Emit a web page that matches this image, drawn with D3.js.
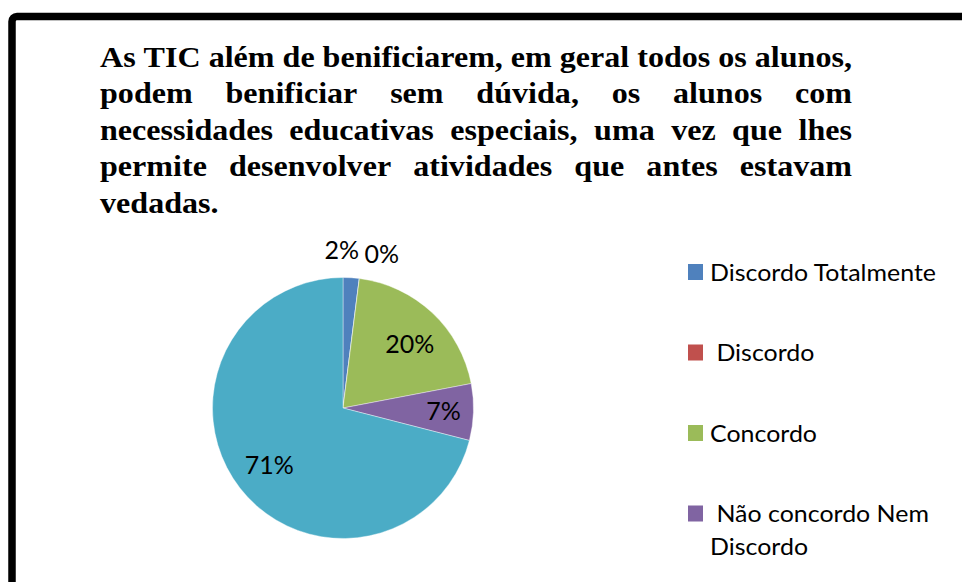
<!DOCTYPE html>
<html><head><meta charset="utf-8">
<script src="https://cdn.jsdelivr.net/npm/d3@7"></script>
<style>body{margin:0;background:#fff} svg{display:block}</style>
</head><body><svg id="c" width="962" height="582"></svg>
<script>
const titleLines = [
  "As TIC além de benificiarem, em geral todos os alunos,",
  "podem benificiar sem dúvida, os alunos com",
  "necessidades educativas especiais, uma vez que lhes",
  "permite desenvolver atividades que antes estavam",
  "vedadas."
];
const categories = ["Discordo Totalmente", " Discordo", "Concordo", " Não concordo Nem|Discordo", "Concordo Totalmente"];
const values = [2, 0, 20, 7, 71];
const valueLabels = ["2%", "0%", "20%", "7%", "71%"];
const colors = ["#4F81BD", "#C0504D", "#9BBB59", "#8064A2", "#4BACC6"];

const svg = d3.select("#c");
const W = 962, H = 582;

// frame
svg.append("rect").attr("x", 12).attr("y", 16.5).attr("width", 1100).attr("height", 800)
  .attr("rx", 5).attr("fill", "none").attr("stroke", "#000").attr("stroke-width", 7.5);

// title, justified
const tX0 = 100, tX1 = 852, tY0 = 67, tDy = 36.5;
const tg = svg.append("g").style("font-family", "'Liberation Serif','Times New Roman',Times,serif")
  .style("font-weight", "bold").style("font-size", "29px").attr("fill", "#000");
const probe = tg.append("text").attr("x", 0).attr("y", -100).text(titleLines[0]);
const natW = probe.node().getComputedTextLength();
probe.remove();
const sx = (tX1 - tX0) / natW;
const tgs = tg.append("g").attr("transform", `translate(${tX0},0) scale(${sx},1)`);
const innerW = (tX1 - tX0) / sx;
titleLines.forEach((line, i) => {
  const y = tY0 + i * tDy;
  if (i === titleLines.length - 1) {
    tgs.append("text").attr("x", 0).attr("y", y).text(line);
    return;
  }
  const words = line.split(" ");
  const els = words.map(w => tgs.append("text").attr("y", y).text(w));
  const widths = els.map(e => e.node().getComputedTextLength());
  const gap = (innerW - d3.sum(widths)) / (words.length - 1);
  let x = 0;
  els.forEach((e, j) => { e.attr("x", x); x += widths[j] + gap; });
});

// pie
const cx = 343, cy = 408, R = 130.5;
const pie = d3.pie().sort(null).value(d => d)(values);
const arc = d3.arc().innerRadius(0).outerRadius(R);
const pg = svg.append("g").attr("transform", `translate(${cx},${cy})`);
pg.selectAll("path").data(pie).join("path")
  .attr("d", arc).attr("fill", (d, i) => colors[i])
  .attr("stroke", "#fff").attr("stroke-width", 0.4);

// data labels
const labelR = [1.21, 1.22, 0.71, 0.77, 0.715];
const labelShift = [-0.07, 0.12, 0.05, 0, 0];
pg.selectAll("text.lbl").data(pie).join("text").attr("class", "lbl")
  .attr("transform", (d, i) => {
    const a = (d.startAngle + d.endAngle) / 2 + labelShift[i];
    const r = R * labelR[i];
    return `translate(${r * Math.sin(a)},${-r * Math.cos(a)})`;
  })
  .attr("text-anchor", "middle").attr("dy", "0.36em")
  .style("font-family", "Lato,sans-serif").style("font-size", "25px").attr("fill", "#000")
  .text((d, i) => valueLabels[i]);

// legend
const lx = 688, ly0 = 264, lDy = 80.5;
const lg = svg.append("g").style("font-family", "Lato,sans-serif").style("font-size", "22.5px").attr("fill", "#000");
const lp = lg.append("text").attr("y", -100).text(categories[0]);
const lsx = 226 / lp.node().getComputedTextLength();
lp.remove();
categories.forEach((c, i) => {
  const y = ly0 + i * lDy;
  if (y + 16 > H) return; // entry lies outside the visible area
  lg.append("rect").attr("x", lx).attr("y", y).attr("width", 15).attr("height", 16).attr("fill", colors[i]);
  const lines = c.split("|");
  lines.forEach((t, k) => {
    const by = y + 16.5 + k * 33;
    lg.append("text").attr("transform", `translate(${lx + 22},${by}) scale(${lsx},1)`)
      .style("white-space", "pre").text(t);
  });
});
</script></body></html>
